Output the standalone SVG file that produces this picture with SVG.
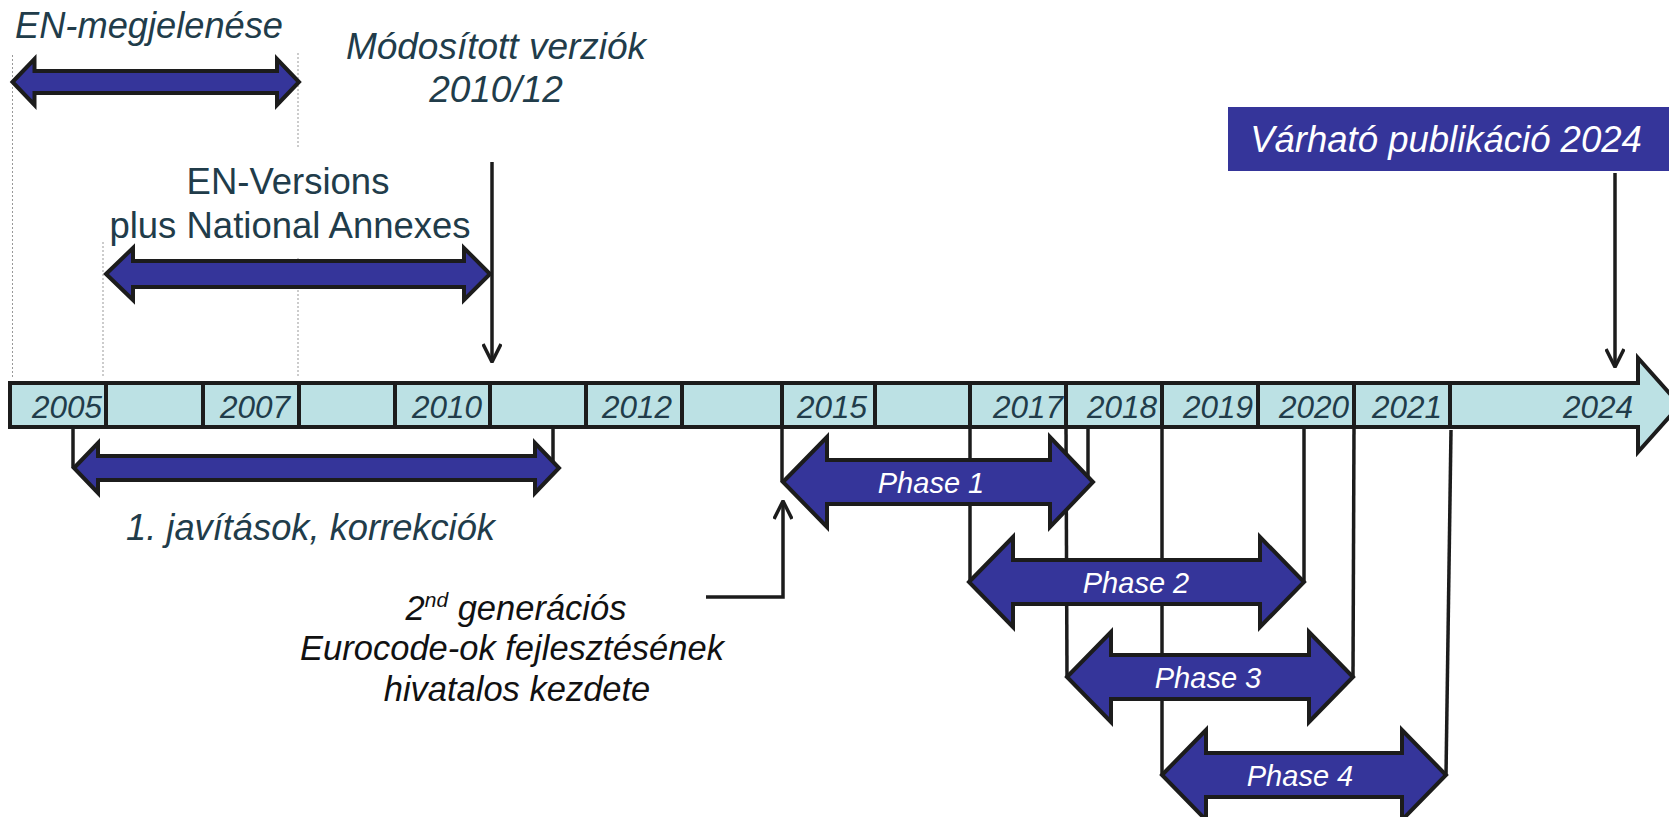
<svg xmlns="http://www.w3.org/2000/svg" width="1669" height="817" viewBox="0 0 1669 817">
<style>
.dark{font-family:"Liberation Sans",Arial,sans-serif;fill:#213c4a;font-style:italic}
.plain{font-family:"Liberation Sans",Arial,sans-serif;fill:#213c4a}
.blk{font-family:"Liberation Sans",Arial,sans-serif;fill:#111;font-style:italic;font-size:34.5px;text-anchor:middle}
.yr{font-family:"Liberation Sans",Arial,sans-serif;fill:#213c4a;font-style:italic;font-size:31.5px;text-anchor:end}
.wh{font-family:"Liberation Sans",Arial,sans-serif;fill:#fff;font-style:italic;text-anchor:middle}
.dbl{fill:#35359a;stroke:#1c1c1c;stroke-width:4;stroke-linejoin:miter}
.ln{stroke:#1c1c1c;stroke-width:3.5;fill:none}
.guide{stroke:#999;stroke-width:1;stroke-dasharray:2,2;fill:none}
.div{stroke:#1c1c1c;stroke-width:4}
</style>
<defs>
<marker id="open" viewBox="0 0 20 20" refX="19" refY="10" markerWidth="20" markerHeight="20" markerUnits="userSpaceOnUse" orient="auto">
<path d="M1,1 L19,10 L1,19" fill="none" stroke="#1c1c1c" stroke-width="3.5"/>
</marker>
</defs>
<rect width="1669" height="817" fill="#fff"/>

<g id="guides">
<line class="guide" x1="12.5" y1="55" x2="12.5" y2="378"/>
<line class="guide" x1="298" y1="53" x2="298" y2="148"/>
<line class="guide" x1="298" y1="258" x2="298" y2="378"/>
<line class="guide" x1="103" y1="242" x2="103" y2="378"/>
</g>

<g id="timeline">
<path d="M10,383 L1638,383 L1638,358 L1680,405 L1638,452 L1638,427 L10,427 Z" fill="#bce1e4" stroke="#1c1c1c" stroke-width="4"/>
<g class="div">
<line x1="106" y1="383" x2="106" y2="427"/>
<line x1="203" y1="383" x2="203" y2="427"/>
<line x1="299" y1="383" x2="299" y2="427"/>
<line x1="395" y1="383" x2="395" y2="427"/>
<line x1="490" y1="383" x2="490" y2="427"/>
<line x1="586" y1="383" x2="586" y2="427"/>
<line x1="682" y1="383" x2="682" y2="427"/>
<line x1="782" y1="383" x2="782" y2="427"/>
<line x1="875" y1="383" x2="875" y2="427"/>
<line x1="970" y1="383" x2="970" y2="427"/>
<line x1="1066" y1="383" x2="1066" y2="427"/>
<line x1="1162" y1="383" x2="1162" y2="427"/>
<line x1="1258" y1="383" x2="1258" y2="427"/>
<line x1="1354" y1="383" x2="1354" y2="427"/>
<line x1="1450" y1="383" x2="1450" y2="427"/>
</g>
<text class="yr" x="102" y="418">2005</text>
<text class="yr" x="290" y="418">2007</text>
<text class="yr" x="482" y="418">2010</text>
<text class="yr" x="672" y="418">2012</text>
<text class="yr" x="867" y="418">2015</text>
<text class="yr" x="1063" y="418">2017</text>
<text class="yr" x="1157" y="418">2018</text>
<text class="yr" x="1253" y="418">2019</text>
<text class="yr" x="1349" y="418">2020</text>
<text class="yr" x="1442" y="418">2021</text>
<text class="yr" x="1633" y="418">2024</text>
</g>

<g id="connectors">
<line class="ln" x1="492" y1="162" x2="492" y2="362" marker-end="url(#open)"/>
<line class="ln" x1="1615" y1="173" x2="1615" y2="367" marker-end="url(#open)"/>
<line class="ln" x1="73" y1="429" x2="73" y2="468"/>
<line class="ln" x1="553" y1="427" x2="553" y2="468"/>
<line class="ln" x1="782" y1="427" x2="782" y2="482"/>
<line class="ln" x1="970" y1="427" x2="970" y2="582"/>
<line class="ln" x1="1066" y1="427" x2="1067" y2="677"/>
<line class="ln" x1="1088" y1="427" x2="1088" y2="478"/>
<line class="ln" x1="1162" y1="427" x2="1162" y2="775"/>
<line class="ln" x1="1304" y1="427" x2="1304" y2="582"/>
<line class="ln" x1="1354" y1="427" x2="1353" y2="677"/>
<line class="ln" x1="1451" y1="430" x2="1446" y2="775"/>
<polyline class="ln" points="706,597 783,597 783,501" marker-end="url(#open)"/>
</g>

<g id="en-megjelenese">
<path class="dbl" d="M12.5,82 L34.5,59 L34.5,71 L277,71 L277,59 L299,82 L277,105 L277,93 L34.5,93 L34.5,105 Z"/>
<text class="dark" x="15" y="38" font-size="37" textLength="268" lengthAdjust="spacingAndGlyphs">EN-megjelenése</text>
</g>

<g id="modositott">
<text class="dark" x="496" y="59" font-size="37" text-anchor="middle">Módosított verziók</text>
<text class="dark" x="496" y="102" font-size="37" text-anchor="middle">2010/12</text>
</g>

<g id="en-versions">
<path class="dbl" d="M106,274 L133,248 L133,261 L464,261 L464,248 L490,274 L464,300 L464,287 L133,287 L133,300 Z"/>
<text class="plain" x="288" y="194" font-size="36.5" text-anchor="middle">EN-Versions</text>
<text class="plain" x="290" y="238" font-size="36.5" text-anchor="middle">plus National Annexes</text>
</g>

<g id="javitasok">
<path class="dbl" d="M74,468 L98,443 L98,456 L535,456 L535,443 L559,468 L535,493 L535,480 L98,480 L98,493 Z"/>
<text class="dark" x="126" y="540" font-size="36.5" textLength="369" lengthAdjust="spacingAndGlyphs">1. javítások, korrekciók</text>
</g>

<g id="kezdete">
<text class="blk" x="516" y="620">2<tspan font-size="21" dy="-13">nd</tspan><tspan dy="13"> generációs</tspan></text>
<text class="blk" x="512" y="660">Eurocode-ok fejlesztésének</text>
<text class="blk" x="517" y="701">hivatalos kezdete</text>
</g>

<g id="phase1">
<path class="dbl" d="M783,482 L827,437 L827,460 L1050,460 L1050,437 L1093,482 L1050,527 L1050,504 L827,504 L827,527 Z"/>
<text class="wh" x="931" y="493" font-size="29">Phase 1</text>
</g>
<g id="phase2">
<path class="dbl" d="M969,582 L1013,537 L1013,560 L1260,560 L1260,537 L1304,582 L1260,627 L1260,604 L1013,604 L1013,627 Z"/>
<text class="wh" x="1136" y="593" font-size="29">Phase 2</text>
</g>
<g id="phase3">
<path class="dbl" d="M1067,677 L1111,632 L1111,655 L1309,655 L1309,632 L1353,677 L1309,722 L1309,699 L1111,699 L1111,722 Z"/>
<text class="wh" x="1208" y="688" font-size="29">Phase 3</text>
</g>
<g id="phase4">
<path class="dbl" d="M1162,775 L1206,730 L1206,753 L1402,753 L1402,730 L1446,775 L1402,820 L1402,797 L1206,797 L1206,820 Z"/>
<text class="wh" x="1300" y="786" font-size="29">Phase 4</text>
</g>

<g id="publikacio">
<rect x="1228" y="107" width="445" height="64" fill="#35359a"/>
<text class="wh" x="1446" y="152" font-size="36.5">Várható publikáció 2024</text>
</g>
</svg>
